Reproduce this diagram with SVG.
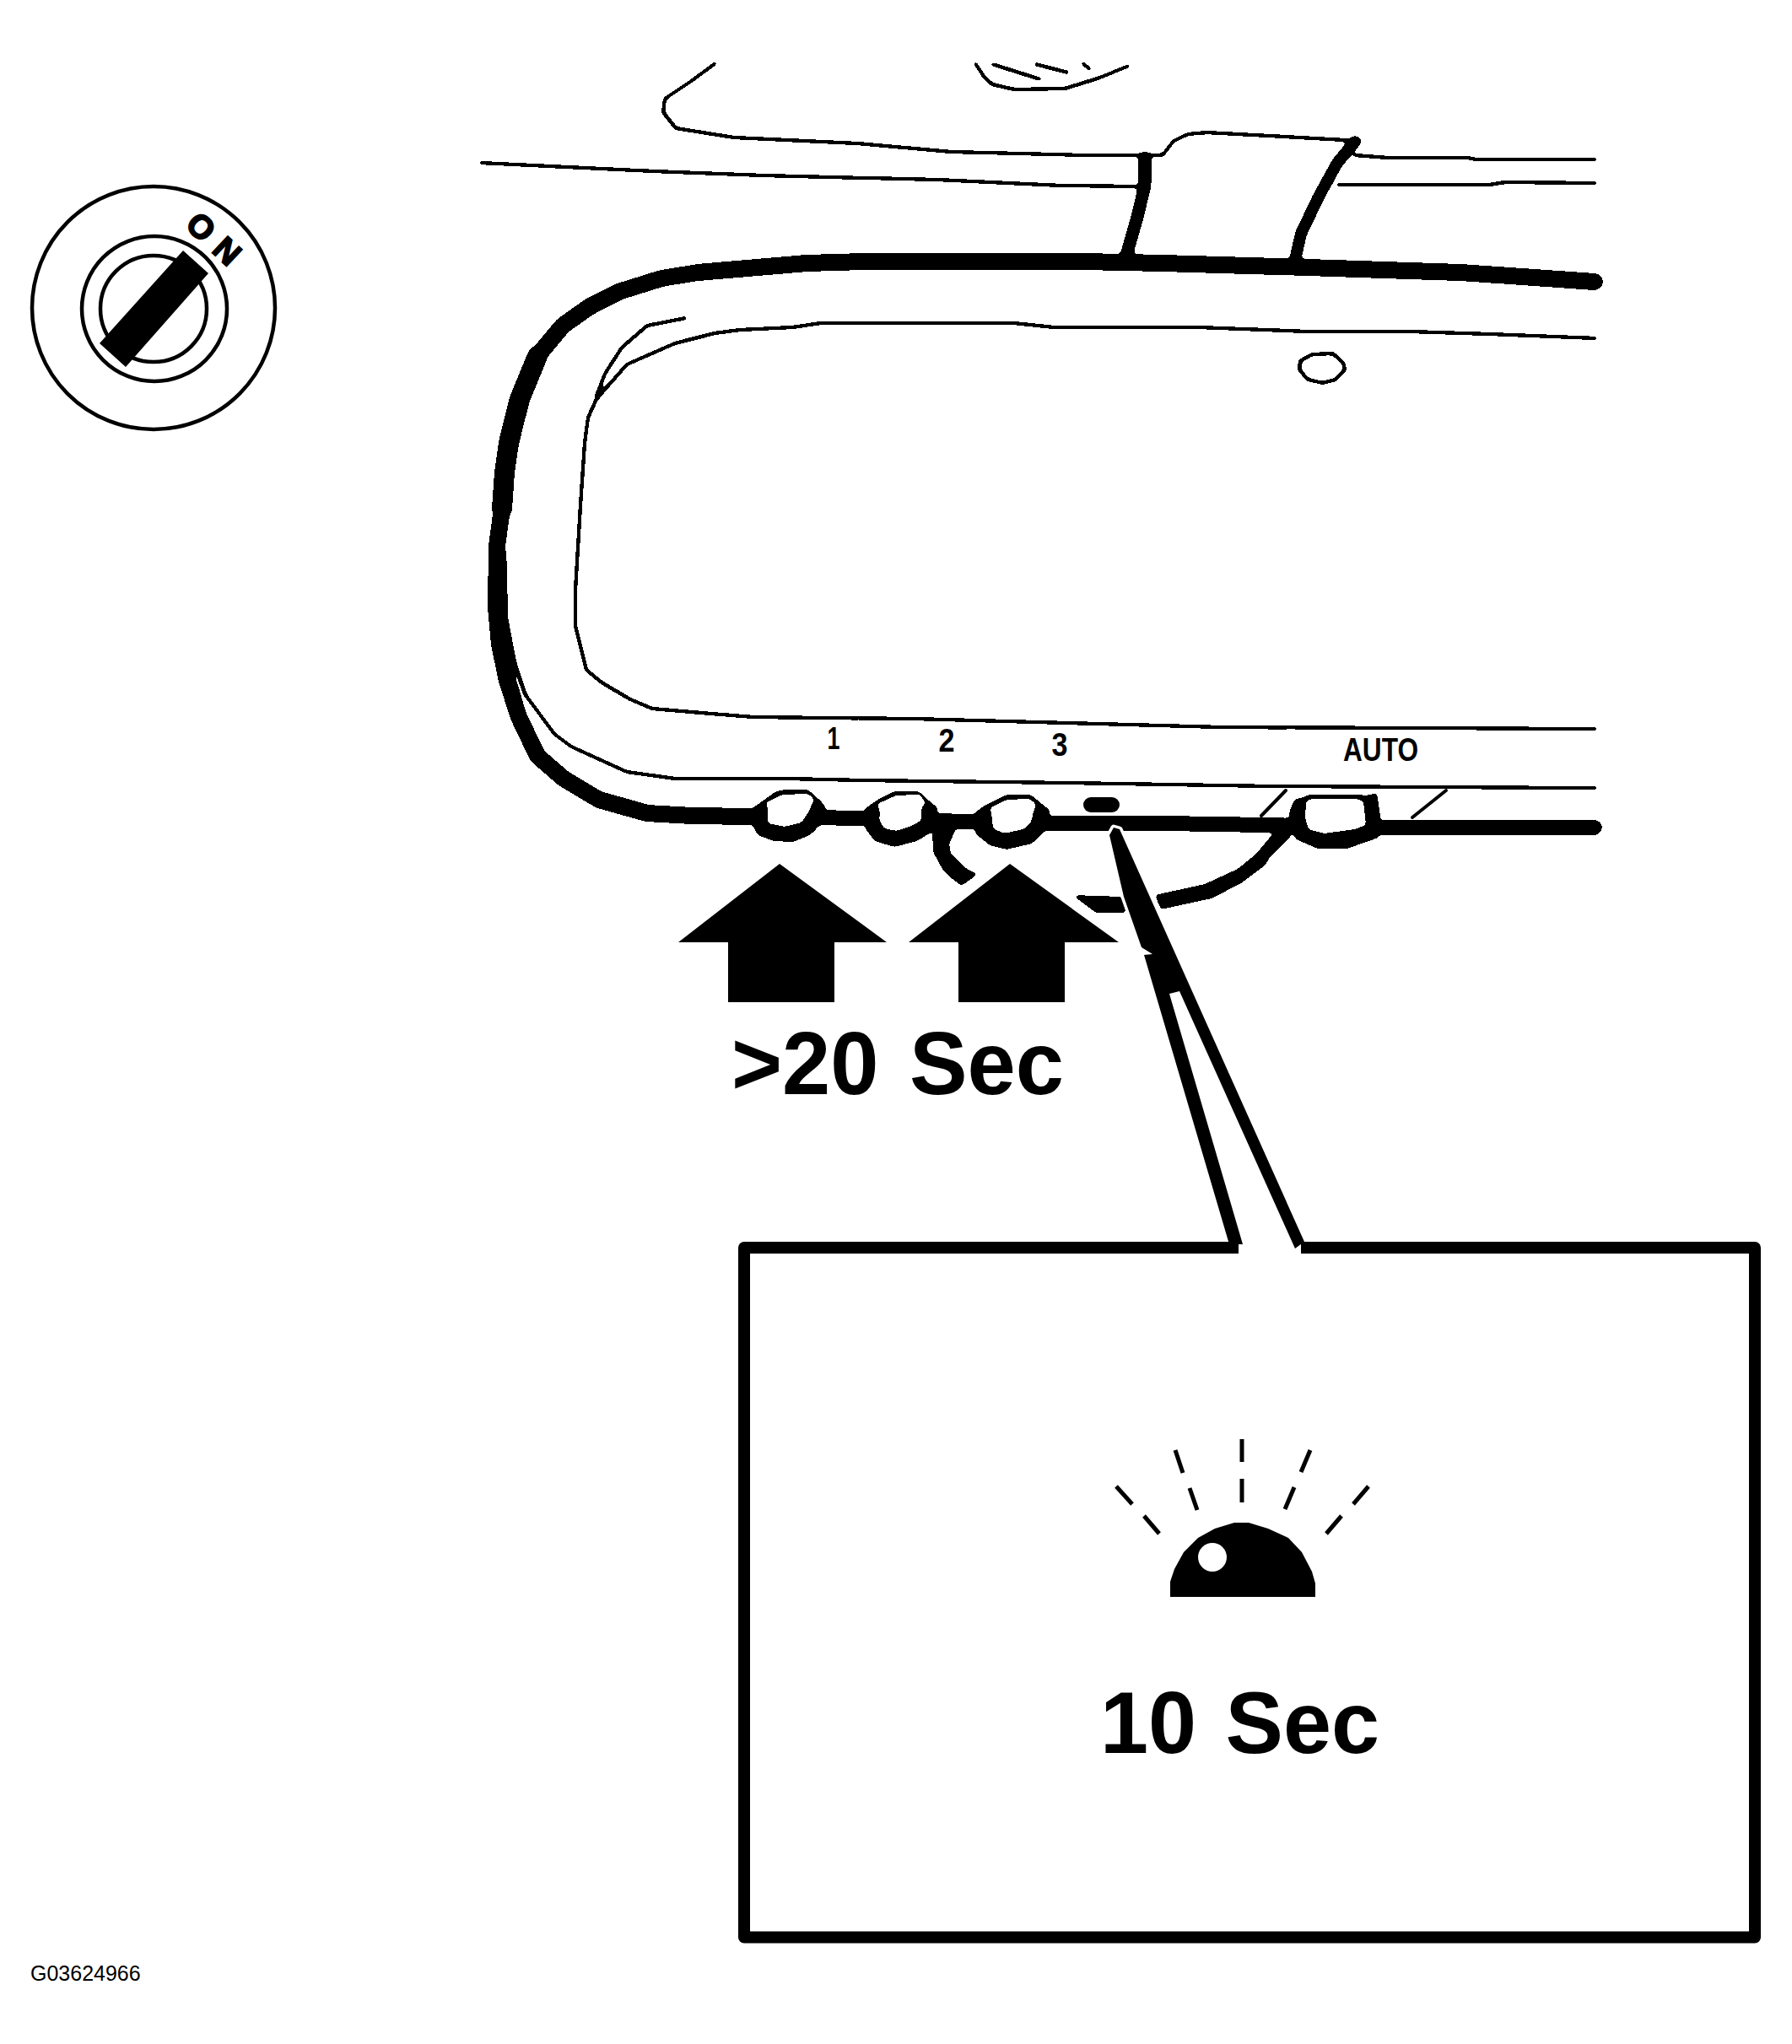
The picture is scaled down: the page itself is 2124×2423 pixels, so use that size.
<svg xmlns="http://www.w3.org/2000/svg" width="2124" height="2423" viewBox="0 0 2124 2423">
<style>
.t{fill:none;stroke:#000;stroke-width:4.5;stroke-linejoin:round;stroke-linecap:round}
.m{fill:none;stroke:#000;stroke-linejoin:round;stroke-linecap:round}
.f{fill:#000}
.w{fill:#fff}
.r{fill:none;stroke:#000;stroke-width:5}
.b{font-family:"Liberation Sans",Arial,sans-serif;font-weight:700;fill:#000}
</style>
<defs>
<filter id="ink" filterUnits="userSpaceOnUse" x="0" y="0" width="2124" height="2423" color-interpolation-filters="sRGB">
<feGaussianBlur stdDeviation="2"/>
<feComponentTransfer>
<feFuncR type="discrete" tableValues="0 1"/>
<feFuncG type="discrete" tableValues="0 1"/>
<feFuncB type="discrete" tableValues="0 1"/>
</feComponentTransfer>
</filter>
</defs>
<g id="line-art" filter="url(#ink)">
<rect width="2124" height="2423" fill="#fff"/>
<g id="windshield">
<polyline class="t" points="848,75 818,97 788,117 786,133 801,152 870,163 1016,170 1128,180 1283,184 1378,184 1391,167 1408,159 1430,157 1612,167"/>
<polyline class="t" points="569,193 775,203 905,208 1111,213 1258,220 1348,221"/>
<polyline class="t" points="1606,184 1645,187 1740,187 1749,189 1892,189"/>
<polyline class="t" points="1585,219 1766,219 1783,216 1892,217"/>
<polyline class="t" points="1156,75 1167,92 1176,100 1202,106 1262,105 1301,93 1338,78"/>
<polyline class="t" points="1176,76 1233,94"/>
<polyline class="t" points="1227,76 1266,86"/>
<polyline class="t" points="1283,75 1292,82"/>
</g>
<g id="mirror-mount">
<polyline class="m" stroke-width="15" points="1357,187 1357,220 1348,257 1335,303"/>
<polyline class="m" stroke-width="14" points="1606,168 1585,193 1563,233 1542,277 1535,308"/>
</g>
<g id="mirror-body">
<polyline class="t" points="1892,401 1766,396 1671,393 1550,393 1421,388 1249,388 1202,383 973,383 939,388 877,391 847,395 800,407 743,432 707,473 697,495 693,525 688,599 682,699 682,742 695,794 713,809 747,829 773,840 843,846 893,850 1083,852 1265,857 1447,862 1892,864"/>
<polyline class="t" points="813,377 767,386 737,412 717,443 707,469"/>
<polyline class="t" points="598,655 600,733 610,785 623,824 657,870 677,885 743,915 800,923 933,923 1022,925 1265,928 1507,932 1892,934"/>
<polyline class="m" stroke-width="20" points="1890,334 1731,323 1550,317 1378,312 1283,310 1025,310 956,312 827,323 784,330 733,346 698,364 667,386 637,422 616,473 603,525 598,560 595,603 589,647 588,720 592,764 601,807 615,850 637,896 668,923 710,948 767,964 820,967 892,968"/>
<polyline class="m" stroke-width="24" points="637,422 616,473 603,525 598,560 595,603"/>
<polyline class="m" stroke-width="18" points="892,968 1026,970 1105,973 1244,976 1380,976 1500,978 1620,981 1890,981"/>
<polygon class="w" stroke="#000" stroke-width="4.5" points="1555,420 1580,419 1592,430 1594,438 1583,450 1568,454 1550,450 1540,438 1541,428"/>
<polygon class="f" points="1105,983 1106,1010 1118,1032 1130,1043 1140,1050 1159,1036 1147,1031 1127,1012 1125,1000 1133,983"/>
<polygon class="f" points="1369,1061 1428,1048 1467,1030 1489,1012 1509,988 1532,990 1506,1015 1499,1026 1471,1047 1436,1065 1376,1078"/>
<polygon class="f" points="1271,1061 1330,1063 1335,1082 1299,1082"/>
</g>
<g id="button-1">
<polygon class="f" points="892,958 903,950 920,938 930,936 958,936 968,945 978,955 978,962 970,980 960,990 940,998 917,997 898,990 892,978"/>
<polygon class="w" points="907,952 927,942 958,941 965,948 958,963 950,975 930,980 910,976 910,957"/>
</g>
<g id="button-2">
<polygon class="f" points="1026,958 1040,948 1060,938 1090,938 1102,950 1111,957 1111,965 1103,987 1087,997 1060,1004 1037,997 1026,983"/>
<polygon class="w" points="1040,953 1062,943 1090,942 1097,952 1092,958 1092,972 1083,978 1063,985 1048,982 1042,972 1043,963"/>
</g>
<g id="button-3">
<polygon class="f" points="1156,963 1165,956 1193,942 1222,942 1235,953 1244,960 1244,967 1237,987 1223,1000 1193,1007 1173,1002 1156,988"/>
<polygon class="w" points="1173,958 1193,948 1220,947 1228,953 1225,962 1222,975 1213,983 1190,988 1177,982 1175,963"/>
</g>
<g id="button-auto">
<polygon class="f" points="1528,963 1534,948 1545,945 1551,942 1610,942 1619,943 1632,940 1636,967 1634,993 1619,998 1597,1006 1562,1006 1536,995 1530,983"/>
<polygon class="w" points="1548,950 1554,947 1608,947 1616,950 1619,978 1606,983 1569,988 1551,983 1547,970"/>
</g>
</g>
<g id="mirror-details">
<rect class="f" x="1284" y="945" width="43" height="18" rx="9"/>
<line class="m" stroke-width="4" x1="1495" y1="967" x2="1524" y2="937"/>
<line class="m" stroke-width="4" x1="1674" y1="969" x2="1714" y2="937"/>
</g>
<g id="key-switch">
<circle class="m" cx="182" cy="365" r="144" stroke-width="4.5"/>
<circle class="m" cx="183" cy="366" r="86" stroke-width="4.5"/>
<circle class="m" cx="182" cy="366" r="63" stroke-width="4.5"/>
<polygon class="f" points="217,297 247,324 149,435 118,407"/>
<text class="b" font-size="39" text-anchor="middle" letter-spacing="13" stroke="#000" stroke-width="2" transform="translate(254,283) rotate(43)" x="6" y="14">ON</text>
</g>
<g id="mirror-labels">
<text class="b" font-size="37" text-anchor="middle" x="988" y="888" textLength="15" lengthAdjust="spacingAndGlyphs">1</text>
<text class="b" font-size="38" text-anchor="middle" x="1122" y="891" textLength="19" lengthAdjust="spacingAndGlyphs">2</text>
<text class="b" font-size="38" text-anchor="middle" x="1256" y="896" textLength="19" lengthAdjust="spacingAndGlyphs">3</text>
<text class="b" font-size="38" x="1592" y="902" textLength="89" lengthAdjust="spacingAndGlyphs">AUTO</text>
</g>
<g id="press-arrows">
<polygon class="f" points="924,1024 1051,1117 989,1117 989,1188 863,1188 863,1117 804,1117"/>
<polygon class="f" points="1197,1024 1326,1117 1262,1117 1262,1188 1136,1188 1136,1117 1077,1117"/>
<text class="b" font-size="105" x="867" y="1297" word-spacing="8" textLength="394" lengthAdjust="spacingAndGlyphs">&gt;20 Sec</text>
</g>
<g id="connectors">
<path fill="#fff" stroke="#fff" stroke-width="7" stroke-linejoin="round" d="M1315,990 L1320,981 L1327,983 L1400,1146 L1356,1132 L1366,1131 L1353,1123 L1332,1063 Z"/>
</g>
<g id="callout-box">
<path fill="none" stroke="#000" stroke-width="14" stroke-linejoin="round" d="M1468,1479 H882 V2296.500 H2080 V1479 H1542"/>
<path class="f" d="M1315,990 L1320,981 L1327,983 L1546,1472 L1535,1480 L1398,1175 L1386,1178 L1473,1475 L1457,1475 L1356,1132 L1366,1131 L1353,1123 L1332,1063 Z"/>
<polygon class="f" points="1387,1893 1387,1875 1392,1860 1403,1840 1420,1823 1440,1812 1463,1805 1480,1805 1503,1812 1527,1823 1543,1840 1555,1863 1559,1877 1559,1893"/>
<circle class="w" cx="1437" cy="1846" r="17"/>
<line class="r" x1="1472" y1="1706" x2="1472" y2="1733"/>
<line class="r" x1="1472" y1="1753" x2="1472" y2="1781"/>
<line class="r" x1="1393" y1="1719" x2="1402" y2="1746"/>
<line class="r" x1="1410" y1="1764" x2="1419" y2="1790"/>
<line class="r" x1="1553" y1="1719" x2="1542" y2="1745"/>
<line class="r" x1="1534" y1="1763" x2="1523" y2="1789"/>
<line class="r" x1="1323" y1="1762" x2="1342" y2="1783"/>
<line class="r" x1="1356" y1="1797" x2="1374" y2="1818"/>
<line class="r" x1="1622" y1="1762" x2="1604" y2="1783"/>
<line class="r" x1="1590" y1="1797" x2="1572" y2="1818"/>
<text class="b" font-size="104" x="1304" y="2078" word-spacing="6" textLength="331" lengthAdjust="spacingAndGlyphs">10 Sec</text>
</g>
<text id="figure-code" font-family="'Liberation Sans',Arial,sans-serif" font-size="25" x="36" y="2348" fill="#000">G03624966</text>
</svg>
